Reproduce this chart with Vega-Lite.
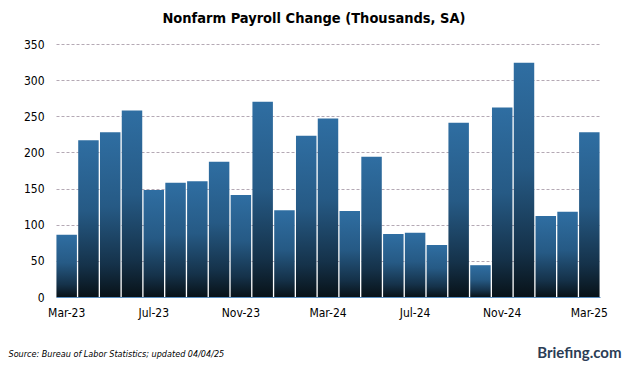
{
  "$schema": "https://vega.github.io/schema/vega-lite/v6.json",
  "width": 544,
  "height": 253,
  "autosize": {"type": "none"},
  "padding": {"left": 56, "top": 44, "right": 26, "bottom": 70},
  "background": "white",
  "title": {
    "text": "Nonfarm Payroll Change (Thousands, SA)",
    "font": "DejaVu Sans Condensed",
    "fontSize": 14.5,
    "fontWeight": "bold",
    "color": "#000000",
    "anchor": "middle",
    "dx": -14,
    "offset": 12
  },
  "config": {
    "view": {"stroke": null},
    "axis": {"labelFont": "DejaVu Sans Condensed", "labelFontSize": 12, "labelColor": "#000000"}
  },
  "data": {
    "values": [
      {"month": "Mar-23", "change": 86},
      {"month": "Apr-23", "change": 217},
      {"month": "May-23", "change": 228},
      {"month": "Jun-23", "change": 258},
      {"month": "Jul-23", "change": 148},
      {"month": "Aug-23", "change": 158},
      {"month": "Sep-23", "change": 160},
      {"month": "Oct-23", "change": 187},
      {"month": "Nov-23", "change": 141},
      {"month": "Dec-23", "change": 270},
      {"month": "Jan-24", "change": 120},
      {"month": "Feb-24", "change": 223},
      {"month": "Mar-24", "change": 247},
      {"month": "Apr-24", "change": 119},
      {"month": "May-24", "change": 194},
      {"month": "Jun-24", "change": 87},
      {"month": "Jul-24", "change": 89},
      {"month": "Aug-24", "change": 72},
      {"month": "Sep-24", "change": 241},
      {"month": "Oct-24", "change": 44},
      {"month": "Nov-24", "change": 262},
      {"month": "Dec-24", "change": 324},
      {"month": "Jan-25", "change": 112},
      {"month": "Feb-25", "change": 118},
      {"month": "Mar-25", "change": 228}
    ]
  },
  "mark": {
    "type": "bar",
    "color": {
      "gradient": "linear",
      "x1": 0, "y1": 0, "x2": 0, "y2": 1,
      "stops": [
        {"offset": 0, "color": "#2f6ea2"},
        {"offset": 0.45, "color": "#265a85"},
        {"offset": 0.8, "color": "#15324a"},
        {"offset": 1, "color": "#081218"}
      ]
    }
  },
  "encoding": {
    "x": {
      "field": "month",
      "type": "ordinal",
      "sort": null,
      "scale": {"paddingInner": 0.06, "paddingOuter": 0.02},
      "axis": {
        "values": ["Mar-23", "Jul-23", "Nov-23", "Mar-24", "Jul-24", "Nov-24", "Mar-25"],
        "labelAngle": 0,
        "ticks": false,
        "domain": true,
        "domainColor": "#5b8fc0",
        "domainWidth": 1,
        "labelPadding": 10,
        "title": "Briefing.com",
        "titleFont": "Lato",
        "titleFontSize": 15,
        "titleFontWeight": "bold",
        "titleColor": "#2b3d55",
        "titleAnchor": "end",
        "titleAlign": "right",
        "titleBaseline": "alphabetic",
        "titleX": 565,
        "titleY": 60
      }
    },
    "y": {
      "field": "change",
      "type": "quantitative",
      "scale": {"domain": [0, 350], "nice": false},
      "axis": {
        "values": [0, 50, 100, 150, 200, 250, 300, 350],
        "grid": true,
        "gridColor": "#b4a9b4",
        "gridDash": [3, 2],
        "gridWidth": 1,
        "domain": false,
        "ticks": false,
        "labelPadding": 12,
        "title": "Source: Bureau of Labor Statistics; updated 04/04/25",
        "titleFont": "DejaVu Sans Condensed",
        "titleFontSize": 9,
        "titleFontStyle": "italic",
        "titleFontWeight": "normal",
        "titleColor": "#000000",
        "titleAngle": 0,
        "titleAlign": "left",
        "titleBaseline": "alphabetic",
        "titleX": -48,
        "titleY": 312
      }
    }
  }
}
